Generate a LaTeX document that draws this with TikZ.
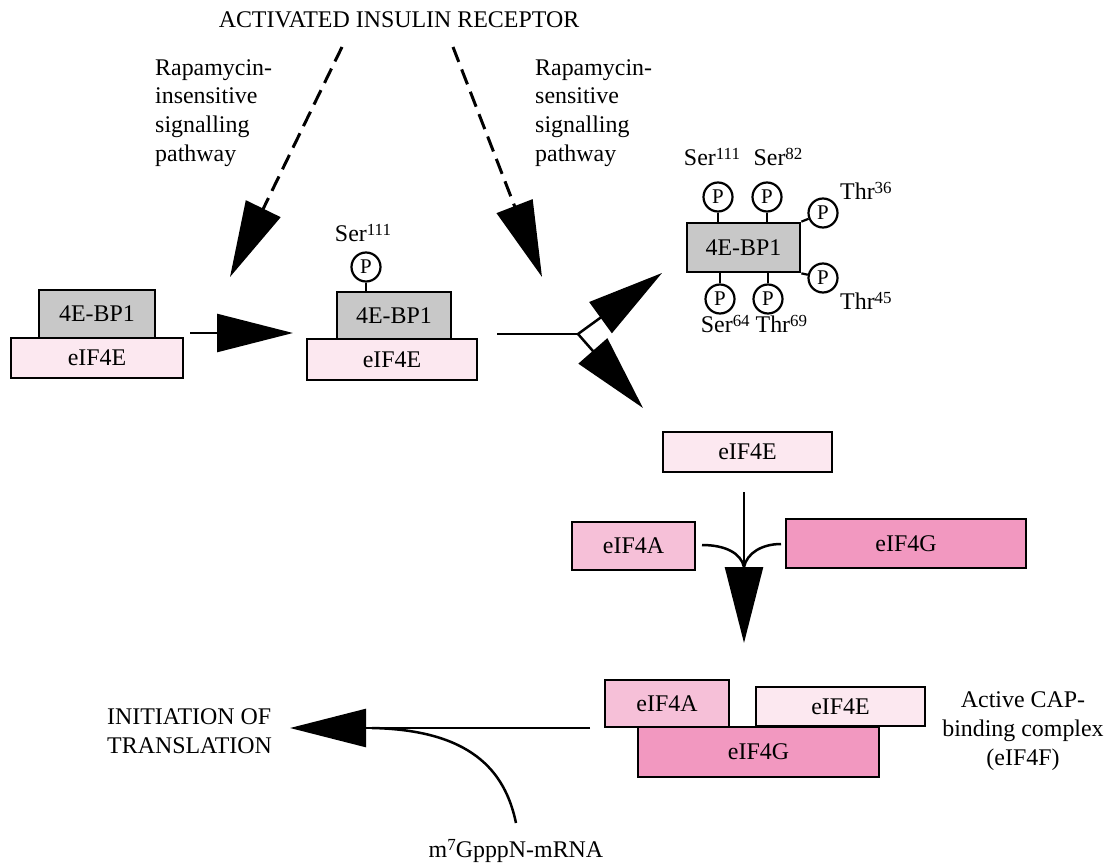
\documentclass[tikz,border=0pt]{standalone}
\usepackage{fontspec}
\setmainfont{Liberation Serif}
\usetikzlibrary{arrows.meta}
\definecolor{eEcol}{RGB}{252,232,240}
\definecolor{eAcol}{RGB}{246,192,216}
\definecolor{eGcol}{RGB}{242,152,192}
\definecolor{bpcol}{RGB}{200,200,200}
\newcommand{\supnum}[1]{\raisebox{6.5bp}{\fontsize{17}{17}\selectfont #1}}
\begin{document}
\begin{tikzpicture}[x=1bp,y=-1bp,
  font=\fontsize{24}{29}\selectfont,
  box/.style={draw, line width=2.7bp, inner sep=0pt},
  pc/.style={draw, circle, line width=2.2bp, minimum size=29bp, inner sep=0pt, fill=white, font=\fontsize{21}{21}\selectfont},
  stalk/.style={line width=2.2bp},
  lbl/.style={inner sep=0pt},
  bigtip/.style={-{Triangle[length=76bp,width=38bp]}},
  conn/.style={line width=2.5bp},
  dashconn/.style={line width=3bp, dash pattern=on 16bp off 8bp}
]
\path[use as bounding box] (0,0) rectangle (1108,863);

% title and pathway labels
\node[lbl] (title) at (399,20) {ACTIVATED INSULIN RECEPTOR};
\node[lbl, align=left, anchor=north west] (insens) at (155,59) {Rapamycin-\\insensitive\\signalling\\pathway};
\node[lbl, align=left, anchor=north west] (sens) at (535,59) {Rapamycin-\\sensitive\\signalling\\pathway};

% left complex
\node[box, fill=bpcol, minimum width=116bp, minimum height=48bp] (bpL) at (97,314) {4E-BP1};
\node[box, fill=eEcol, minimum width=172bp, minimum height=40bp] (eEL) at (97,358) {eIF4E};

% middle complex
\node[box, fill=bpcol, minimum width=114bp, minimum height=47bp] (bpM) at (394,315.5) {4E-BP1};
\node[box, fill=eEcol, minimum width=170bp, minimum height=41bp] (eEM) at (392,359.5) {eIF4E};
\node[pc] (pM) at (366,267) {P};
\draw[stalk] (pM.south) -- (pM.south |- bpM.north);
\node[lbl] (serM) at (363,233) {Ser\supnum{111}};

% phosphorylated 4E-BP1
\node[box, fill=bpcol, minimum width=113bp, minimum height=49bp] (bpR) at (743.5,247.5) {4E-BP1};
\node[pc] (pA) at (718,197) {P};
\node[pc] (pB) at (767,197) {P};
\node[pc] (pC) at (823,213) {P};
\node[pc] (pD) at (720,299) {P};
\node[pc] (pE) at (768,299) {P};
\node[pc] (pF) at (823,278) {P};
\draw[stalk] (pA.south) -- (pA.south |- bpR.north);
\draw[stalk] (pB.south) -- (pB.south |- bpR.north);
\draw[stalk] (pD.north) -- (pD.north |- bpR.south);
\draw[stalk] (pE.north) -- (pE.north |- bpR.south);
\draw[stalk] (bpR.north east) -- (pC);
\draw[stalk] (bpR.south east) -- (pF);
\node[lbl] (s111) at (712,157) {Ser\supnum{111}};
\node[lbl] (s82) at (778,157) {Ser\supnum{82}};
\node[lbl, anchor=west] (t36) at (840,191) {Thr\supnum{36}};
\node[lbl, anchor=west] (t45) at (840,301) {Thr\supnum{45}};
\node[lbl] (s64) at (754,324) {Ser\supnum{64} Thr\supnum{69}};

% free eIF4E, eIF4A, eIF4G
\node[box, fill=eEcol, minimum width=169bp, minimum height=40bp] (eEF) at (747.5,452) {eIF4E};
\node[box, fill=eAcol, minimum width=123bp, minimum height=48bp] (eAF) at (633.5,546) {eIF4A};
\node[box, fill=eGcol, minimum width=240bp, minimum height=49bp] (eGF) at (906,543.5) {eIF4G};

% bottom complex
\node[box, fill=eAcol, minimum width=124bp, minimum height=47bp] (eAB) at (667,703.5) {eIF4A};
\node[box, fill=eEcol, minimum width=169bp, minimum height=39bp] (eEB) at (840.5,706.5) {eIF4E};
\node[box, fill=eGcol, minimum width=241bp, minimum height=50bp] (eGB) at (758.5,752) {eIF4G};
\node[lbl, align=center] (cap) at (1023,731) {Active CAP-\\binding complex\\(eIF4F)};

\node[lbl, align=left, anchor=west] (init) at (107,731) {INITIATION OF\\TRANSLATION};
\node[lbl] (mrna) at (516,851) {m\supnum{7}GpppN-mRNA};

% coordinates for connector ends
\coordinate (dLs) at (342,47);
\coordinate (dLe) at (230,277);
\coordinate (dRs) at (453,47);
\coordinate (dRe) at (542,277);
\coordinate (hs) at (190,333);
\coordinate (he) at (293,333);
\coordinate (ss) at (497,334);
\coordinate (br) at (578,334);
\coordinate (su) at (662,273);
\coordinate (sd) at (643,408);
\coordinate (vs) at (744,492);
\coordinate (vm) at (744,567);
\coordinate (ve) at (744,643);
\coordinate (cA) at (702,545);
\coordinate (cG) at (781,544);
\coordinate (bs) at (590,728);
\coordinate (be) at (290,728);
\coordinate (ms) at (516,823);
\coordinate (mm) at (372,728);

% connectors
\draw[dashconn, bigtip] (dLs) -- (dLe);
\draw[dashconn, bigtip] (dRs) -- (dRe);
\draw[conn, bigtip] (hs) -- (he);
\draw[conn] (ss) -- (br);
\draw[conn, bigtip] (br) -- (su);
\draw[conn, bigtip] (br) -- (sd);
\draw[conn, bigtip] (vs) -- (ve);
\draw[conn] (cA) .. controls (725,545) and (741,553) .. (vm);
\draw[conn] (cG) .. controls (762,544) and (747,553) .. (vm);
\draw[conn, bigtip] (bs) -- (be);
\draw[conn] (ms) .. controls (505,770) and (470,730) .. (mm);
\end{tikzpicture}
\end{document}
